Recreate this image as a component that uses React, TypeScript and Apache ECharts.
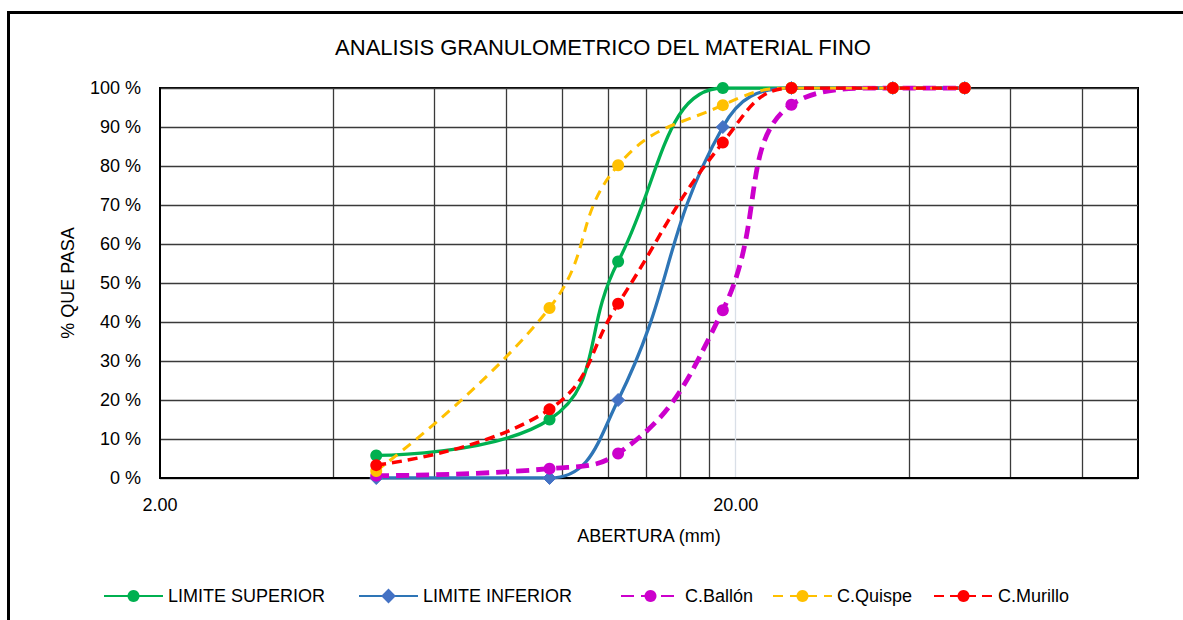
import React, { useEffect, useRef } from 'react';
import * as echarts from 'echarts';

const sieves = [4.75, 9.5, 12.5, 19, 25, 37.5, 50];
const limiteSuperior = [5.8, 15, 55.5, 100, 100, 100, 100];
const limiteInferior = [0, 0, 20, 90, 100, 100, 100];
const cBallon = [0.6, 2.4, 6.3, 43, 95.7, 100, 100];
const cQuispe = [1.8, 43.6, 80.2, 95.6, 100, 100, 100];
const cMurillo = [3.3, 17.6, 44.7, 86, 100, 100, 100];

const xGridValues = [4, 6, 8, 10, 12, 14, 16, 18, 20, 40, 60, 80];
const xLabelValues = [2, 20];
const legendNames = ['LIMITE SUPERIOR', 'LIMITE INFERIOR', 'C.Ballón', 'C.Quispe', 'C.Murillo'];
const legendLefts = [103, 358, 620, 772, 933];

const FONT = '"Liberation Sans", Arial, sans-serif';

export default function App() {
  const ref = useRef<HTMLDivElement>(null);
  useEffect(() => {
    if (!ref.current) return;
    const chart = echarts.init(ref.current, null, { renderer: 'svg' });
    const pts = (vals: number[]) => sieves.map((x, i) => [x, vals[i]]);
    const smooth = 0.45;
    const option: any = {
      animation: false,
      backgroundColor: '#fff',
      textStyle: { fontFamily: FONT },
      title: {
        text: 'ANALISIS GRANULOMETRICO DEL MATERIAL FINO',
        left: 603,
        top: 36,
        padding: 0,
        textAlign: 'center',
        textStyle: { fontFamily: FONT, fontSize: 22, fontWeight: 'normal', color: '#000' },
      },
      legend: legendNames.map((n, i) => ({
        data: [n],
        left: legendLefts[i],
        top: 587,
        padding: 0,
        itemWidth: 59,
        itemHeight: 15,
        textStyle: { fontFamily: FONT, fontSize: 18, color: '#000' },
      })),
      grid: {
        left: 160,
        top: 88,
        width: 978,
        height: 390,
        show: true,
        borderColor: '#000',
        borderWidth: 2,
        containLabel: false,
      },
      xAxis: {
        type: 'log',
        logBase: 10,
        min: 2,
        max: 100,
        name: 'ABERTURA (mm)',
        nameLocation: 'middle',
        nameGap: 49,
        nameTextStyle: { fontFamily: FONT, fontSize: 18, color: '#000' },
        axisLine: { show: true, lineStyle: { color: '#000', width: 2 } },
        axisTick: { show: false, customValues: xGridValues },
        axisLabel: {
          customValues: xLabelValues,
          formatter: (v: number) => Number(v).toFixed(2),
          fontFamily: FONT,
          fontSize: 18,
          color: '#000',
          margin: 18,
        },
        splitLine: {
          show: true,
          lineStyle: {
            color: xGridValues.map((v) => (v === 20 ? '#D9DFE7' : '#3a3a3a')),
            width: 1.3,
          },
        },
        minorTick: { show: false },
        minorSplitLine: { show: false },
      },
      yAxis: {
        type: 'value',
        min: 0,
        max: 100,
        interval: 10,
        name: '% QUE PASA',
        nameLocation: 'middle',
        nameRotate: 90,
        nameGap: 83,
        nameTextStyle: { fontFamily: FONT, fontSize: 18, color: '#000' },
        axisLine: { show: true, lineStyle: { color: '#000', width: 2 } },
        axisTick: { show: false },
        axisLabel: {
          formatter: '{value} %',
          fontFamily: FONT,
          fontSize: 18,
          color: '#000',
          margin: 19,
        },
        splitLine: { show: true, lineStyle: { color: '#3a3a3a', width: 1.3 } },
      },
      graphic: [
        {
          type: 'rect',
          shape: { x: 8.5, y: 12.5, width: 1400, height: 800 },
          style: { fill: 'none', stroke: '#000', lineWidth: 3 },
          silent: true,
          z: 100,
        },
      ],
      series: [
        {
          name: 'LIMITE SUPERIOR',
          type: 'line',
          smooth,
          data: pts(limiteSuperior),
          symbol: 'circle',
          symbolSize: 12,
          lineStyle: { color: '#00B050', width: 3.3 },
          itemStyle: { color: '#00B050' },
        },
        {
          name: 'LIMITE INFERIOR',
          type: 'line',
          smooth,
          data: pts(limiteInferior),
          symbol: 'diamond',
          symbolSize: 13,
          lineStyle: { color: '#2E75B6', width: 3.3 },
          itemStyle: { color: '#4472C4', borderColor: '#4472C4', borderWidth: 1 },
        },
        {
          name: 'C.Ballón',
          type: 'line',
          smooth,
          data: pts(cBallon),
          symbol: 'circle',
          symbolSize: 12,
          lineStyle: { color: '#CC00CC', width: 4.8, type: [13, 7] },
          itemStyle: { color: '#CC00CC' },
        },
        {
          name: 'C.Quispe',
          type: 'line',
          smooth,
          data: pts(cQuispe),
          symbol: 'circle',
          symbolSize: 12,
          lineStyle: { color: '#FFC000', width: 3, type: [10, 7] },
          itemStyle: { color: '#FFC000' },
        },
        {
          name: 'C.Murillo',
          type: 'line',
          smooth,
          data: pts(cMurillo),
          symbol: 'circle',
          symbolSize: 12,
          lineStyle: { color: '#FF0000', width: 3.5, type: [10, 6] },
          itemStyle: { color: '#FF0000' },
        },
      ],
    };
    chart.setOption(option);
    return () => chart.dispose();
  }, []);
  return (
    <div
      ref={ref}
      style={{ position: 'fixed', left: 0, top: 0, width: 1183, height: 620, overflow: 'hidden', background: '#fff' }}
    />
  );
}
